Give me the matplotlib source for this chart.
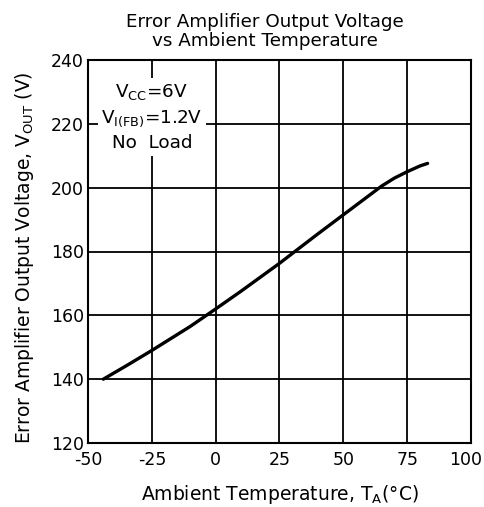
import matplotlib
matplotlib.use("Agg")
import matplotlib.pyplot as plt
import matplotlib.transforms as mtransforms
import numpy as np

plt.rcParams['font.family'] = ['DejaVu Sans']
plt.rcParams['mathtext.fontset'] = 'custom'
plt.rcParams['mathtext.rm'] = 'DejaVu Sans'
plt.rcParams['mathtext.it'] = 'DejaVu Sans'
plt.rcParams['axes.unicode_minus'] = False

temp = [-44, -35, -25, -10, 0, 10, 25, 40, 50, 60, 65, 70, 75, 80, 83]
vout = [140, 144.2, 149, 156.5, 162, 167.6, 176.3, 185.5, 191.5, 197.5, 200.5, 203, 205, 206.8, 207.6]
xticks = [-50, -25, 0, 25, 50, 75, 100]
yticks = [120, 140, 160, 180, 200, 220, 240]

fig = plt.figure(figsize=(4.85, 5.07), dpi=100)
ax = fig.add_axes([88/485, 1-443/507, (471-88)/485, (443-60)/507])
ax.plot(temp, vout, color='black', lw=2.4, solid_capstyle='round')
ax.set_xlim(-50, 100)
ax.set_ylim(120, 240)
ax.set_xticks(xticks)
ax.set_yticks(yticks)
ax.grid(True, color='black', lw=1.3)
ax.tick_params(length=0, labelsize=12.5)
ax.tick_params(axis='y', pad=3)
ax.tick_params(axis='x', pad=5.5)
for s in ax.spines.values():
    s.set_linewidth(1.5)

# nudge the last x tick label inward so it stays inside the figure
last = ax.get_xticklabels()[-1]
last.set_transform(last.get_transform() +
                   mtransforms.ScaledTranslation(-5/100, 0, fig.dpi_scale_trans))

ax.set_xlabel('Ambient Temperature, T$_\\mathregular{A}$(°C)', fontsize=13.5, labelpad=10)
ax.set_ylabel('Error Amplifier Output Voltage, V$_\\mathregular{OUT}$ (V)', fontsize=13.5)
ax.yaxis.set_label_coords(-0.136, 0.484)
fig.text(265/485, 1-13/507, 'Error Amplifier Output Voltage\nvs Ambient Temperature',
         ha='center', va='top', fontsize=13.2, linespacing=1.05)

ax.text(-25, 222, 'V$_\\mathregular{CC}$=6V\nV$_\\mathregular{I(FB)}$=1.2V\nNo  Load',
        ha='center', va='center', fontsize=13.2, linespacing=1.4,
        bbox=dict(facecolor='white', edgecolor='none', pad=2.5))

fig.savefig('out.png', dpi=100)
